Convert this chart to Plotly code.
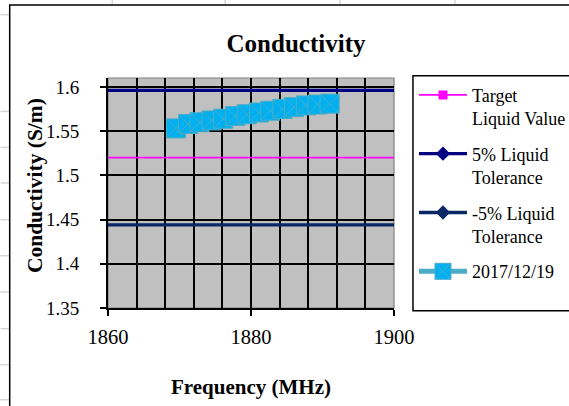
import plotly.graph_objects as go

# ---- data ----
freq = [1869.5, 1871.2, 1872.8, 1874.5, 1876.1, 1877.8, 1879.4,
        1881.1, 1882.7, 1884.4, 1886.0, 1887.7, 1889.3, 1891.0]
cond = [1.553, 1.558, 1.560, 1.562, 1.564, 1.567, 1.569,
        1.571, 1.573, 1.575, 1.577, 1.579, 1.580, 1.581]

ref_freq = [1850, 1910]
target = [1.52, 1.52]
tol_plus = [1.596, 1.596]
tol_minus = [1.444, 1.444]

series_names = ["Target<br>Liquid Value", "5% Liquid<br>Tolerance",
                "-5% Liquid<br>Tolerance", "2017/12/19"]

x_ticks = [1860, 1880, 1900]
y_ticks = [1.35, 1.4, 1.45, 1.5, 1.55, 1.6]
y_tick_text = ["1.35", "1.4", "1.45", "1.5", "1.55", "1.6"]

FONT = "Liberation Serif"
W, H = 569, 406
# plot area in pixels
PX0, PX1, PY0, PY1 = 107.7, 394.0, 78.3, 308.3


def px(x):
    return (x - PX0) / (PX1 - PX0)


def py(y):
    return (PY1 - y) / (PY1 - PY0)


fig = go.Figure()
fig.add_trace(go.Scatter(
    x=ref_freq, y=target, name=series_names[0], mode="lines+markers",
    line=dict(color="#FF00FF", width=1.6),
    marker=dict(symbol="square", size=9, color="#FF00FF"),
    legendgroup="a"))
fig.add_trace(go.Scatter(
    x=ref_freq, y=tol_plus, name=series_names[1], mode="lines+markers",
    line=dict(color="#000080", width=3.2),
    marker=dict(symbol="diamond", size=11, color="#000080"),
    legendgroup="b"))
fig.add_trace(go.Scatter(
    x=ref_freq, y=tol_minus, name=series_names[2], mode="lines+markers",
    line=dict(color="#0A2765", width=3.4),
    marker=dict(symbol="diamond", size=11, color="#0A2765"),
    legendgroup="c"))
fig.add_trace(go.Scatter(
    x=freq, y=cond, name=series_names[3], mode="lines+markers",
    line=dict(color="#4BACC6", width=5),
    marker=dict(symbol="square-x", size=19, color="#00B0F0",
                line=dict(color="#4BACC6", width=1)),
    legendgroup="d"))

shapes = []
# spreadsheet cell grid outside the chart
grid_col = "#D6D6D6"
for yy in [15, 111.7, 147.7, 183.3, 220, 256, 292.3, 329, 365, 400]:
    shapes.append(dict(type="line", xref="paper", yref="paper",
                       x0=px(0), x1=px(9), y0=py(yy), y1=py(yy),
                       line=dict(color=grid_col, width=1.5), layer="below"))
for xx in [112, 225, 340, 455]:
    shapes.append(dict(type="line", xref="paper", yref="paper",
                       x0=px(xx), x1=px(xx), y0=py(0), y1=py(5),
                       line=dict(color=grid_col, width=1.5), layer="below"))
# chart border
shapes.append(dict(type="rect", xref="paper", yref="paper",
                   x0=px(9.3), x1=px(W + 20), y0=py(H + 20), y1=py(5.3),
                   line=dict(color="black", width=1.5), layer="below"))
# plot area border
shapes.append(dict(type="rect", xref="paper", yref="paper",
                   x0=0, x1=1, y0=0, y1=1,
                   line=dict(color="#808080", width=1.2), layer="below"))
# legend box
shapes.append(dict(type="rect", xref="paper", yref="paper",
                   x0=px(413), x1=px(W + 20), y0=py(311), y1=py(76),
                   line=dict(color="black", width=1.5),
                   fillcolor="white", layer="below"))

fig.update_layout(
    width=W, height=H,
    margin=dict(l=PX0, r=W - PX1, t=PY0, b=H - PY1, pad=0, autoexpand=False),
    paper_bgcolor="white", plot_bgcolor="#C0C0C0",
    font=dict(family=FONT, color="black", size=18),
    title=dict(text="<b>Conductivity</b>", x=296 / W, xanchor="center",
               y=1 - 43 / H, yanchor="middle",
               font=dict(family=FONT, size=25, color="black")),
    showlegend=True,
    legend=dict(x=px(414), y=py(77), xanchor="left", yanchor="top",
                bgcolor="rgba(0,0,0,0)", borderwidth=0,
                font=dict(family=FONT, size=18, color="black"),
                valign="top", itemwidth=48, tracegroupgap=9,
                maxheight=400, itemclick=False, itemdoubleclick=False),
    shapes=shapes,
    annotations=[dict(text="<b>Conductivity (S/m)</b>", textangle=-90,
                      xref="paper", yref="paper", x=px(34), y=py(186),
                      xanchor="center", yanchor="middle", showarrow=False,
                      font=dict(family=FONT, size=21.5, color="black"))],
)

fig.update_xaxes(
    range=[1860, 1900], tickvals=x_ticks, ticktext=[str(v) for v in x_ticks],
    ticks="outside", ticklen=6, tickwidth=1.5, tickcolor="black",
    showline=True, linecolor="black", linewidth=2,
    showgrid=True, gridcolor="black", gridwidth=2,
    minor=dict(dtick=4, tick0=1860, showgrid=True, gridcolor="black",
               gridwidth=2, ticks=""),
    zeroline=False,
    tickfont=dict(family=FONT, size=20.5, color="black"),
    ticklabelstandoff=3,
    title=dict(text="<b>Frequency (MHz)</b>", standoff=33,
               font=dict(family=FONT, size=21, color="black")),
)
fig.update_yaxes(
    range=[1.35, 1.61], tickvals=y_ticks, ticktext=y_tick_text,
    ticks="outside", ticklen=6, tickwidth=1.5, tickcolor="black",
    showline=True, linecolor="black", linewidth=2,
    showgrid=True, gridcolor="black", gridwidth=2,
    zeroline=False,
    tickfont=dict(family=FONT, size=19, color="black"),
    ticklabelstandoff=17,
)

fig.write_html("out.html",
               config=dict(displayModeBar=False),
               post_script="document.body.style.margin='0px';"
                           "document.body.style.overflow='hidden';")
